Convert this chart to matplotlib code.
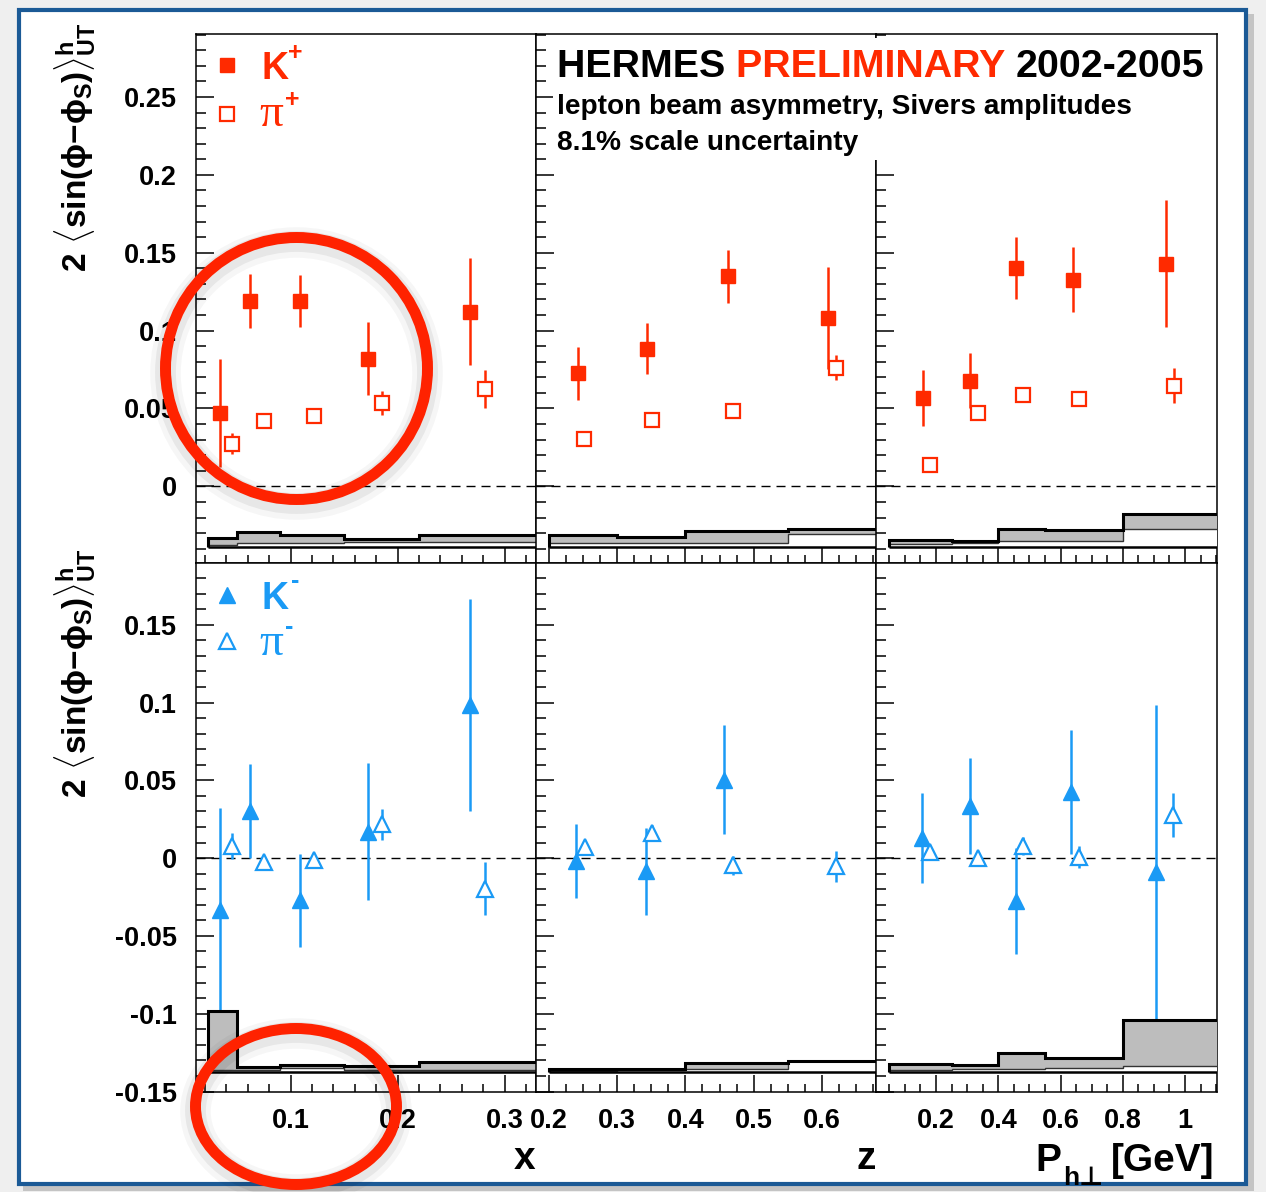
import matplotlib
matplotlib.use("Agg")
import matplotlib.pyplot as plt
from matplotlib.patches import Rectangle, Ellipse
from matplotlib.lines import Line2D
from matplotlib.ticker import MultipleLocator, FuncFormatter

plt.rcParams['font.family'] = ['Liberation Sans', 'DejaVu Sans']
plt.rcParams['font.weight'] = 'bold'
plt.rcParams['axes.unicode_minus'] = False
plt.rcParams['mathtext.fontset'] = 'custom'
plt.rcParams['mathtext.rm'] = 'Liberation Sans:bold'
plt.rcParams['mathtext.it'] = 'Liberation Sans:bold'
plt.rcParams['mathtext.bf'] = 'Liberation Sans:bold'
plt.rcParams['mathtext.sf'] = 'Liberation Sans:bold'

# ---------------- data ----------------
# bin edges of the systematic bands
x_edges = [0.023, 0.05, 0.09, 0.15, 0.22, 0.4]
z_edges = [0.2, 0.3, 0.4, 0.55, 0.7]
pt_edges = [0.05, 0.25, 0.4, 0.55, 0.8, 1.2]

# K+ / pi+ (top row)
Kp_x = [0.0336, 0.062, 0.109, 0.1724, 0.268]
Kp_x_val = [0.047, 0.119, 0.119, 0.082, 0.112]
Kp_x_err = [0.0345, 0.0176, 0.0166, 0.0233, 0.0344]
pip_x = [0.0451, 0.0747, 0.122, 0.1853, 0.2816]
pip_x_val = [0.0275, 0.0417, 0.0449, 0.0536, 0.0624]
pip_x_err = [0.0068, 0.002, 0.002, 0.0076, 0.0123]

Kp_z = [0.2433, 0.3436, 0.462, 0.609]
Kp_z_val = [0.0727, 0.0883, 0.135, 0.1082]
Kp_z_err = [0.017, 0.0163, 0.017, 0.0327]
pip_z = [0.252, 0.351, 0.470, 0.621]
pip_z_val = [0.0303, 0.0429, 0.0486, 0.0761]
pip_z_err = [0.002, 0.002, 0.004, 0.008]

Kp_pt = [0.159, 0.309, 0.456, 0.641, 0.939]
Kp_pt_val = [0.0566, 0.0679, 0.1403, 0.1327, 0.143]
Kp_pt_err = [0.018, 0.0175, 0.02, 0.021, 0.041]
pip_pt = [0.182, 0.334, 0.479, 0.660, 0.965]
pip_pt_val = [0.0135, 0.0468, 0.0585, 0.0559, 0.0647]
pip_pt_err = [0.002, 0.003, 0.004, 0.004, 0.0115]

# K- / pi- (bottom row)
Km_x = [0.0336, 0.062, 0.109, 0.1724, 0.268]
Km_x_val = [-0.0336, 0.0302, -0.0271, 0.0171, 0.0986]
Km_x_err = [0.066, 0.030, 0.030, 0.044, 0.068]
pim_x = [0.0451, 0.0747, 0.122, 0.1853, 0.2816]
pim_x_val = [0.0079, -0.0026, -0.0013, 0.0218, -0.0197]
pim_x_err = [0.0085, 0.002, 0.002, 0.010, 0.017]

Km_z = [0.2398, 0.3416, 0.457]
Km_z_val = [-0.0018, -0.0084, 0.0505]
Km_z_err = [0.024, 0.028, 0.035]
pim_z = [0.2528, 0.3505, 0.4701, 0.62]
pim_z_val = [0.0071, 0.0163, -0.0047, -0.0053]
pim_z_err = [0.004, 0.005, 0.006, 0.010]

Km_pt = [0.155, 0.309, 0.456, 0.633, 0.908]
Km_pt_val = [0.0131, 0.0334, -0.0276, 0.0426, -0.0087]
Km_pt_err = [0.029, 0.031, 0.034, 0.040, 0.107]
pim_pt = [0.182, 0.334, 0.480, 0.660, 0.962]
pim_pt_val = [0.0039, 0.0, 0.0079, 0.0008, 0.0276]
pim_pt_err = [0.003, 0.003, 0.006, 0.007, 0.014]

# systematic band heights (above band baseline)
sysKp_x = [0.0061, 0.0097, 0.0076, 0.0050, 0.0076]
syspip_x = [0.0012, 0.0026, 0.0026, 0.0033, 0.0035]
sysKp_z = [0.0080, 0.0062, 0.0101, 0.0114]
syspip_z = [0.0028, 0.0028, 0.0028, 0.0083]
sysKp_pt = [0.0045, 0.0039, 0.0114, 0.0107, 0.0210]
syspip_pt = [0.0022, 0.0026, 0.0037, 0.0037, 0.0114]
sysKm_x = [0.0392, 0.0035, 0.0044, 0.0040, 0.0065]
syspim_x = [0.0010, 0.0013, 0.0024, 0.0016, 0.0013]
sysKm_z = [0.0020, 0.0022, 0.0056, 0.0073]
syspim_z = [0.0005, 0.0010, 0.0022, 0.0071]
sysKm_pt = [0.0051, 0.0047, 0.0122, 0.0090, 0.0334]
syspim_pt = [0.0015, 0.0021, 0.0021, 0.0028, 0.0040]

band_base_top = -0.039
band_base_bottom = -0.1375

RED = '#ff2a00'
BLUE = '#1a9af5'

# ---------------- layout ----------------
W, H = 1266, 1192
fig = plt.figure(figsize=(W / 100, H / 100), dpi=100)
fig.patch.set_facecolor('#efefef')


def fx(px):
    return px / W


def fy(py):
    return 1 - py / H


# frame
fig.add_artist(Rectangle((fx(23), fy(1191)), (1254 - 23) / W, (1191 - 14) / H,
                         transform=fig.transFigure, fc='#c4c4c4', ec='none', zorder=-3))
fig.add_artist(Rectangle((fx(19), fy(1184)), (1246 - 19) / W, (1184 - 10) / H,
                         transform=fig.transFigure, fc='white', ec='#1b5a96', lw=3.0, zorder=-2))

cols = [(196, 535.6), (535.6, 876), (876, 1217)]
rows = [(34, 563.3), (563.3, 1091.5)]
xlims = [(0.0115, 0.329), (0.1807, 0.679), (0.007, 1.103)]
ylims = [(-0.0494, 0.2904), (-0.15, 0.1895)]
xmajor = [0.1, 0.1, 0.2]
xminor = [0.02, 0.025, 0.05]

fmt = FuncFormatter(lambda v, p: ('%g' % round(v, 4)) if abs(v) > 1e-9 else '0')

panels = [
    [(Kp_x, Kp_x_val, Kp_x_err, pip_x, pip_x_val, pip_x_err, x_edges, sysKp_x, syspip_x),
     (Kp_z, Kp_z_val, Kp_z_err, pip_z, pip_z_val, pip_z_err, z_edges, sysKp_z, syspip_z),
     (Kp_pt, Kp_pt_val, Kp_pt_err, pip_pt, pip_pt_val, pip_pt_err, pt_edges, sysKp_pt, syspip_pt)],
    [(Km_x, Km_x_val, Km_x_err, pim_x, pim_x_val, pim_x_err, x_edges, sysKm_x, syspim_x),
     (Km_z, Km_z_val, Km_z_err, pim_z, pim_z_val, pim_z_err, z_edges, sysKm_z, syspim_z),
     (Km_pt, Km_pt_val, Km_pt_err, pim_pt, pim_pt_val, pim_pt_err, pt_edges, sysKm_pt, syspim_pt)],
]

for r, (y0, y1) in enumerate(rows):
    for c, (x0, x1) in enumerate(cols):
        ax = fig.add_axes([fx(x0), fy(y1), (x1 - x0) / W, (y1 - y0) / H])
        ax.set_facecolor('white')
        ax.set_xlim(*xlims[c])
        ax.set_ylim(*ylims[r])
        for s in ax.spines.values():
            s.set_linewidth(1.1)
            s.set_color('black')
        ax.xaxis.set_major_locator(MultipleLocator(xmajor[c]))
        ax.xaxis.set_minor_locator(MultipleLocator(xminor[c]))
        ax.yaxis.set_major_locator(MultipleLocator(0.05))
        ax.yaxis.set_minor_locator(MultipleLocator(0.01))
        ax.xaxis.set_major_formatter(fmt)
        ax.yaxis.set_major_formatter(fmt)
        ax.tick_params(which='both', direction='in', top=False, right=False, width=1.1,
                       labelsize=19.5, colors='black')
        ax.tick_params(axis='y', which='major', length=13, pad=13.5)
        ax.tick_params(axis='y', which='minor', length=7)
        ax.tick_params(axis='x', which='major', length=12, pad=12)
        ax.tick_params(axis='x', which='minor', length=6)
        ax.tick_params(labelbottom=(r == 1), labelleft=(c == 0))

        kx, kv, ke, px_, pv, pe, edges, sk, sp = panels[r][c]
        base = band_base_top if r == 0 else band_base_bottom
        color = RED if r == 0 else BLUE
        mk = 's' if r == 0 else '^'
        ms = 10 if r == 0 else 12

        # zero line
        ax.axhline(0, color='black', lw=1.0, ls=(0, (6.5, 4.3)), zorder=2)

        # error bars (under the systematic band, as in the original)
        ax.errorbar(kx, kv, yerr=ke, fmt='none', ecolor=color, elinewidth=1.8,
                    capsize=0, zorder=2.5)
        ax.errorbar(px_, pv, yerr=pe, fmt='none', ecolor=color, elinewidth=1.8,
                    capsize=0, zorder=2.5)

        # systematic bands
        ax.stairs([base + v for v in sk], edges, baseline=base, fill=True,
                  color='#bdbdbd', zorder=3)
        ax.stairs([base + v for v in sp], edges, baseline=base, fill=True,
                  color='white', zorder=3.1)
        ax.stairs([base + v for v in sp], edges, baseline=base, fill=False,
                  color='#333333', lw=1.0, zorder=3.2)
        ax.stairs([base + v for v in sk], edges, baseline=base, fill=False,
                  color='black', lw=2.2, zorder=3.3)
        ax.hlines(base, edges[0], edges[-1], color='black', lw=1.8, zorder=3.4)

        # markers
        ax.plot(kx, kv, ls='none', marker=mk, ms=ms, mfc=color, mec=color, zorder=4)
        ax.plot(px_, pv, ls='none', marker=mk, ms=ms - 0.5, mfc='white', mec=color,
                mew=1.6, zorder=4)

# white box behind the header text
fig.add_artist(Rectangle((fx(553), fy(160)), (1214 - 553) / W, (160 - 38) / H,
                         transform=fig.transFigure, fc='white', ec='none', zorder=1))

# header text
t1 = fig.text(fx(557), fy(77), 'HERMES ', fontsize=28.4, fontweight='bold',
              color='black', va='baseline', ha='left')
fig.canvas.draw()
rend = fig.canvas.get_renderer()
bb = t1.get_window_extent(rend)
t2 = fig.text(bb.x1 / W, fy(77), 'PRELIMINARY ', fontsize=28.4, fontweight='bold',
              color=RED, va='baseline', ha='left')
bb2 = t2.get_window_extent(rend)
fig.text(bb2.x1 / W, fy(77), '2002-2005', fontsize=28.4, fontweight='bold',
         color='black', va='baseline', ha='left')
fig.text(fx(557), fy(114), 'lepton beam asymmetry, Sivers amplitudes', fontsize=20.2,
         fontweight='bold', va='baseline', ha='left')
fig.text(fx(557), fy(150), '8.1% scale uncertainty', fontsize=20.2,
         fontweight='bold', va='baseline', ha='left')

# legends
fig.add_artist(Line2D([fx(227.5)], [fy(65.4)], ls='none', marker='s', ms=10, mfc=RED,
                      mec=RED, transform=fig.transFigure))
fig.add_artist(Line2D([fx(227.5)], [fy(113.6)], ls='none', marker='s', ms=9.5, mfc='white',
                      mec=RED, mew=1.6, transform=fig.transFigure))
fig.add_artist(Line2D([fx(227.5)], [fy(595)], ls='none', marker='^', ms=12, mfc=BLUE,
                      mec=BLUE, transform=fig.transFigure))
fig.add_artist(Line2D([fx(227.5)], [fy(641)], ls='none', marker='^', ms=11.5, mfc='white',
                      mec=BLUE, mew=1.6, transform=fig.transFigure))
fig.text(fx(261), fy(79), 'K', fontsize=27, fontweight='bold', color=RED, va='baseline')
fig.text(fx(295), fy(53), '+', fontsize=18, fontweight='bold', color=RED, va='center', ha='center')
fig.text(fx(259), fy(126), 'π', fontsize=34, fontweight='normal', color=RED, va='baseline',
         family=['Liberation Serif', 'DejaVu Serif'])
fig.text(fx(292), fy(100), '+', fontsize=18, fontweight='bold', color=RED, va='center', ha='center')
fig.text(fx(261), fy(609), 'K', fontsize=27, fontweight='bold', color=BLUE, va='baseline')
fig.text(fx(295), fy(581), '-', fontsize=18, fontweight='bold', color=BLUE, va='center', ha='center')
fig.text(fx(259), fy(655), 'π', fontsize=34, fontweight='normal', color=BLUE, va='baseline',
         family=['Liberation Serif', 'DejaVu Serif'])
fig.text(fx(289), fy(627), '-', fontsize=18, fontweight='bold', color=BLUE, va='center', ha='center')

# axis titles
ylab = r'$2\ \langle\mathrm{sin}(\phi{-}\phi_{S})\rangle^{h}_{UT}$'
fig.text(fx(75), fy(22), ylab, rotation=90, fontsize=24, ha='center', va='top')
fig.text(fx(75), fy(548), ylab, rotation=90, fontsize=24, ha='center', va='top')
fig.text(fx(535), fy(1169), 'x', fontsize=28, fontweight='bold', ha='right', va='baseline')
fig.text(fx(876), fy(1169), 'z', fontsize=28, fontweight='bold', ha='right', va='baseline')
fig.text(fx(1035), fy(1171), 'P', fontsize=28, fontweight='bold', ha='left', va='baseline')
fig.text(fx(1063), fy(1185), 'h⊥', fontsize=19, fontweight='bold', ha='left', va='baseline',
         family=['Liberation Sans', 'DejaVu Sans'])
fig.text(fx(1214), fy(1171), '[GeV]', fontsize=28, fontweight='bold', ha='right', va='baseline')

# red annotation circles with soft shadow
for (cx, cy, rx, ry) in [(296.5, 368.5, 131, 131), (296, 1106.5, 100.5, 78)]:
    for lw, a, off in [(22, 0.035, 5), (15, 0.06, 4)]:
        fig.add_artist(Ellipse((fx(cx), fy(cy + off)), 2 * rx / W, 2 * ry / H,
                               transform=fig.transFigure, fill=False, ec='black',
                               lw=lw, alpha=a, zorder=5))
    fig.add_artist(Ellipse((fx(cx), fy(cy)), 2 * rx / W, 2 * ry / H,
                           transform=fig.transFigure, fill=False, ec='#ff2200',
                           lw=7.9, zorder=6))

fig.savefig('out.png', dpi=100, facecolor=fig.get_facecolor())
